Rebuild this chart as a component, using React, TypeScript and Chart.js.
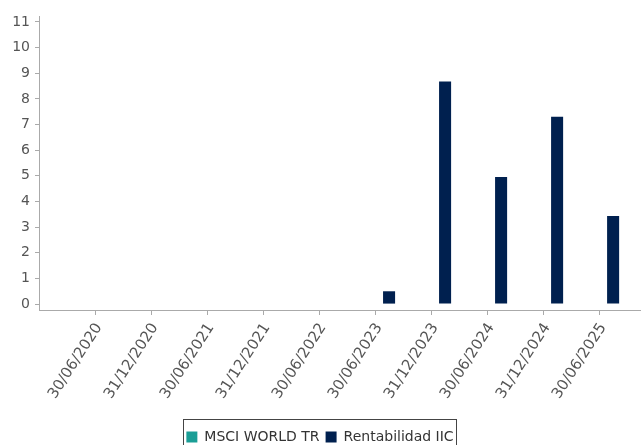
import { useEffect, useRef } from 'react';
import { Chart, registerables } from 'chart.js';

Chart.register(...registerables);

const dates = [
  '30/06/2020',
  '31/12/2020',
  '30/06/2021',
  '31/12/2021',
  '30/06/2022',
  '30/06/2023',
  '31/12/2023',
  '30/06/2024',
  '31/12/2024',
  '30/06/2025',
];
const msciValues: (number | null)[] = [null, null, null, null, null, null, null, null, null, null];
const rentValues: (number | null)[] = [null, null, null, null, null, 0.5, 8.68, 4.95, 7.3, 3.43];
const yTicks = [0, 1, 2, 3, 4, 5, 6, 7, 8, 9, 10, 11];

const FONT = 'DejaVu Sans';

export default function App() {
  const ref = useRef<HTMLCanvasElement>(null);

  useEffect(() => {
    document.body.style.margin = '0';
    if (!ref.current) return;

    const legendBorder = {
      id: 'legendBorder',
      afterDraw(chart: any) {
        const lg = chart.legend;
        const hb = lg && lg.legendHitBoxes;
        if (!hb || !hb.length) return;
        const left = Math.min(...hb.map((h: any) => h.left));
        const right = Math.max(...hb.map((h: any) => h.left + h.width));
        const top = Math.min(...hb.map((h: any) => h.top));
        const ctx = chart.ctx;
        ctx.save();
        ctx.strokeStyle = '#444';
        ctx.lineWidth = 1;
        ctx.strokeRect(Math.round(left - 3) + 0.5, Math.round(top - 11) + 0.5, Math.round(right - left + 6), 60);
        ctx.restore();
      },
    };

    const chart = new Chart(ref.current, {
      type: 'bar',
      data: {
        datasets: [
          {
            label: 'MSCI WORLD TR',
            data: msciValues.map((v, i) => ({ x: i, y: v })) as any,
            backgroundColor: '#1a9e96',
            borderWidth: 0,
          },
          {
            label: 'Rentabilidad IIC',
            data: rentValues.map((v, i) => ({ x: i, y: v })) as any,
            backgroundColor: '#00204f',
            borderWidth: 0,
          },
        ],
      },
      options: {
        animation: false,
        responsive: true,
        maintainAspectRatio: false,
        categoryPercentage: 1,
        barPercentage: 0.43,
        layout: { padding: { top: 16, right: 1, left: 0, bottom: -9 } },
        scales: {
          x: {
            type: 'linear',
            min: -1,
            max: 9.73,
            offset: false,
            grid: {
              offset: false,
              drawOnChartArea: false,
              drawTicks: true,
              tickLength: 5,
              color: '#aaa',
            },
            border: { color: '#aaa' },
            ticks: {
              autoSkip: false,
              maxRotation: 57,
              minRotation: 57,
              padding: 5,
              labelOffset: 4,
              font: { family: FONT, size: 15 },
              color: '#555',
              callback: (v: any) => dates[v] ?? '',
            },
            afterBuildTicks: (s: any) => {
              s.ticks = dates.map((_, i) => ({ value: i }));
            },
            afterFit: (s: any) => {
              s.height = 114;
            },
          },
          y: {
            type: 'linear',
            min: -0.23,
            max: 11.23,
            grid: {
              drawOnChartArea: false,
              drawTicks: true,
              tickLength: 4,
              color: '#aaa',
            },
            border: { color: '#aaa' },
            ticks: {
              padding: 5,
              font: { family: FONT, size: 14 },
              color: '#555',
            },
            afterBuildTicks: (s: any) => {
              s.ticks = yTicks.map((v) => ({ value: v }));
            },
            afterFit: (s: any) => {
              s.width = 39;
            },
          },
        },
        plugins: {
          legend: {
            position: 'bottom',
            labels: {
              boxWidth: 11,
              boxHeight: 11,
              padding: 6,
              font: { family: FONT, size: 14 },
              color: '#333',
            },
          },
          tooltip: { enabled: false },
        },
      },
      plugins: [legendBorder],
    });

    return () => chart.destroy();
  }, []);

  return (
    <div style={{ position: 'relative', width: 641, height: 445 }}>
      <canvas ref={ref} />
    </div>
  );
}
